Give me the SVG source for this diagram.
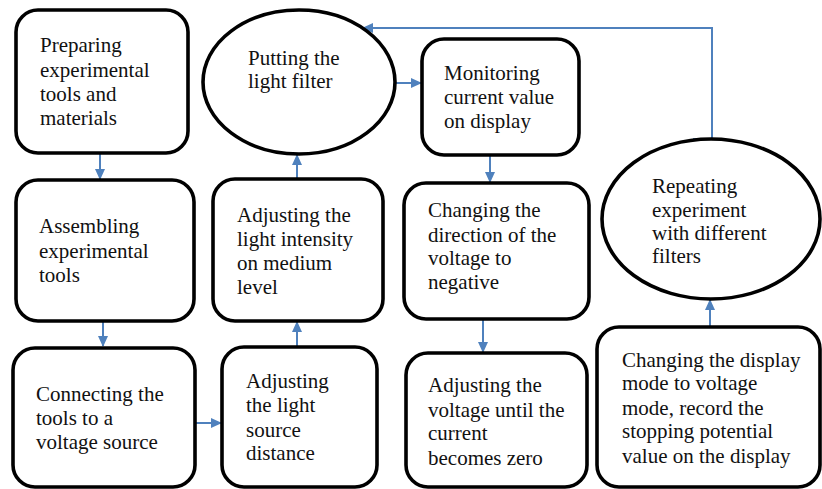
<svg xmlns="http://www.w3.org/2000/svg" width="822" height="489" viewBox="0 0 822 489">
<style>
.n{fill:#fff;stroke:#000;stroke-width:3.6}
.t{font-family:"Liberation Serif","Times New Roman",serif;font-size:21px;fill:#111}
.c{fill:none;stroke:#4f81bd;stroke-width:2}
</style>
<defs>
<marker id="ah" markerWidth="5.5" markerHeight="5" refX="5" refY="2.5" orient="auto" markerUnits="strokeWidth">
<path d="M0,0 L5.5,2.5 L0,5 z" fill="#4f81bd"/>
</marker>
</defs>
<rect width="822" height="489" fill="#fff"/>
<g id="connectors">
<path class="c" d="M100,153 V179" marker-end="url(#ah)"/>
<path class="c" d="M103,321 V346" marker-end="url(#ah)"/>
<path class="c" d="M195,423 H221" marker-end="url(#ah)"/>
<path class="c" d="M297,347 V322" marker-end="url(#ah)"/>
<path class="c" d="M297,179 V155" marker-end="url(#ah)"/>
<path class="c" d="M395,83 H421" marker-end="url(#ah)"/>
<path class="c" d="M490,155 V182" marker-end="url(#ah)"/>
<path class="c" d="M483,319 V352" marker-end="url(#ah)"/>
<path class="c" d="M710,327 V300" marker-end="url(#ah)"/>
<path class="c" d="M693,139 H712 V28 H363" marker-end="url(#ah)"/>
</g>
<g id="n1"><rect class="n" x="16" y="10" width="172" height="143" rx="22"/>
<text class="t" x="40"><tspan x="40" y="52">Preparing</tspan><tspan x="40" y="77">experimental</tspan><tspan x="40" y="101">tools and</tspan><tspan x="40" y="125">materials</tspan></text></g>
<g id="n2"><rect class="n" x="16" y="180" width="178" height="141" rx="22"/>
<text class="t"><tspan x="39" y="233">Assembling</tspan><tspan x="39" y="258">experimental</tspan><tspan x="39" y="282">tools</tspan></text></g>
<g id="n3"><rect class="n" x="13" y="348" width="182" height="139" rx="22"/>
<text class="t"><tspan x="36" y="401">Connecting the</tspan><tspan x="36" y="425">tools to a</tspan><tspan x="36" y="449">voltage source</tspan></text></g>
<g id="n4"><rect class="n" x="222" y="347" width="155" height="140" rx="22"/>
<text class="t"><tspan x="246" y="388">Adjusting</tspan><tspan x="246" y="412">the light</tspan><tspan x="246" y="437">source</tspan><tspan x="246" y="460">distance</tspan></text></g>
<g id="n5"><rect class="n" x="213" y="179" width="170" height="142" rx="22"/>
<text class="t"><tspan x="237" y="222">Adjusting the</tspan><tspan x="237" y="246">light intensity</tspan><tspan x="237" y="270">on medium</tspan><tspan x="237" y="294">level</tspan></text></g>
<g id="n6"><ellipse class="n" cx="299" cy="82" rx="96" ry="72"/>
<text class="t"><tspan x="248" y="65">Putting the</tspan><tspan x="248" y="88">light filter</tspan></text></g>
<g id="n7"><rect class="n" x="422" y="39" width="157" height="116" rx="22"/>
<text class="t"><tspan x="444" y="80">Monitoring</tspan><tspan x="444" y="104">current value</tspan><tspan x="444" y="128">on display</tspan></text></g>
<g id="n8"><rect class="n" x="404" y="183" width="185" height="136" rx="22"/>
<text class="t"><tspan x="428" y="217">Changing the</tspan><tspan x="428" y="242">direction of the</tspan><tspan x="428" y="265">voltage to</tspan><tspan x="428" y="289">negative</tspan></text></g>
<g id="n9"><rect class="n" x="406" y="353" width="181" height="134" rx="22"/>
<text class="t"><tspan x="428" y="392">Adjusting the</tspan><tspan x="428" y="417">voltage until the</tspan><tspan x="428" y="440">current</tspan><tspan x="428" y="465">becomes zero</tspan></text></g>
<g id="n10"><rect class="n" x="597" y="327" width="223" height="160" rx="22"/>
<text class="t"><tspan x="622" y="367">Changing the display</tspan><tspan x="622" y="390">mode to voltage</tspan><tspan x="622" y="415">mode, record the</tspan><tspan x="622" y="438">stopping potential</tspan><tspan x="622" y="463">value on the display</tspan></text></g>
<g id="n11"><ellipse class="n" cx="711" cy="219" rx="109" ry="80"/>
<text class="t"><tspan x="652" y="193">Repeating</tspan><tspan x="652" y="217">experiment</tspan><tspan x="652" y="240">with different</tspan><tspan x="652" y="263">filters</tspan></text></g>
</svg>
